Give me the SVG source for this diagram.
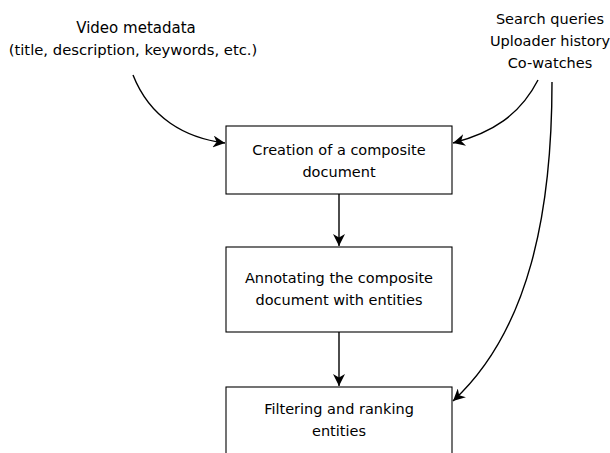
<svg xmlns="http://www.w3.org/2000/svg" width="610" height="453" viewBox="0 0 610 453">
<style>
text{font-family:"DejaVu Sans","Liberation Sans",sans-serif;font-size:14.5px;fill:#000;text-anchor:middle}
.box{fill:#fff;stroke:#000;stroke-width:1.1}
.c{fill:none;stroke:#000;stroke-width:1.4}
</style>
<defs>
<marker id="ah" markerWidth="12" markerHeight="12" refX="10" refY="5" orient="auto" markerUnits="userSpaceOnUse" viewBox="0 0 10 10">
<path d="M0,0 L10,5 L0,10 L3,5 z" fill="#000"/>
</marker>
</defs>
<rect width="610" height="453" fill="#fff"/>
<g id="src1">
<text x="136" y="33" style="font-size:15px">Video metadata</text>
<text x="133" y="55" style="font-size:14.8px">(title, description, keywords, etc.)</text>
</g>
<g id="src2">
<text x="550" y="24">Search queries</text>
<text x="550" y="46">Uploader history</text>
<text x="550" y="68">Co-watches</text>
</g>
<g id="n1">
<rect class="box" x="226" y="126" width="226" height="68"/>
<text x="339" y="155">Creation of a composite</text>
<text x="339" y="177">document</text>
</g>
<g id="n2">
<rect class="box" x="226" y="247" width="226" height="85"/>
<text x="339" y="283">Annotating the composite</text>
<text x="339" y="305">document with entities</text>
</g>
<g id="n3">
<rect class="box" x="226" y="387" width="226" height="80"/>
<text x="339" y="414">Filtering and ranking</text>
<text x="339" y="436">entities</text>
</g>
<g id="connectors">
<path class="c" d="M133,75 C150,118 185,138 225,143" marker-end="url(#ah)"/>
<path class="c" d="M538,80 C520,115 492,133 453,143" marker-end="url(#ah)"/>
<path class="c" d="M552,82 C552,210 530,330 453,401" marker-end="url(#ah)"/>
<path class="c" d="M339,194 L339,246" marker-end="url(#ah)"/>
<path class="c" d="M339,332 L339,386" marker-end="url(#ah)"/>
</g>
</svg>
